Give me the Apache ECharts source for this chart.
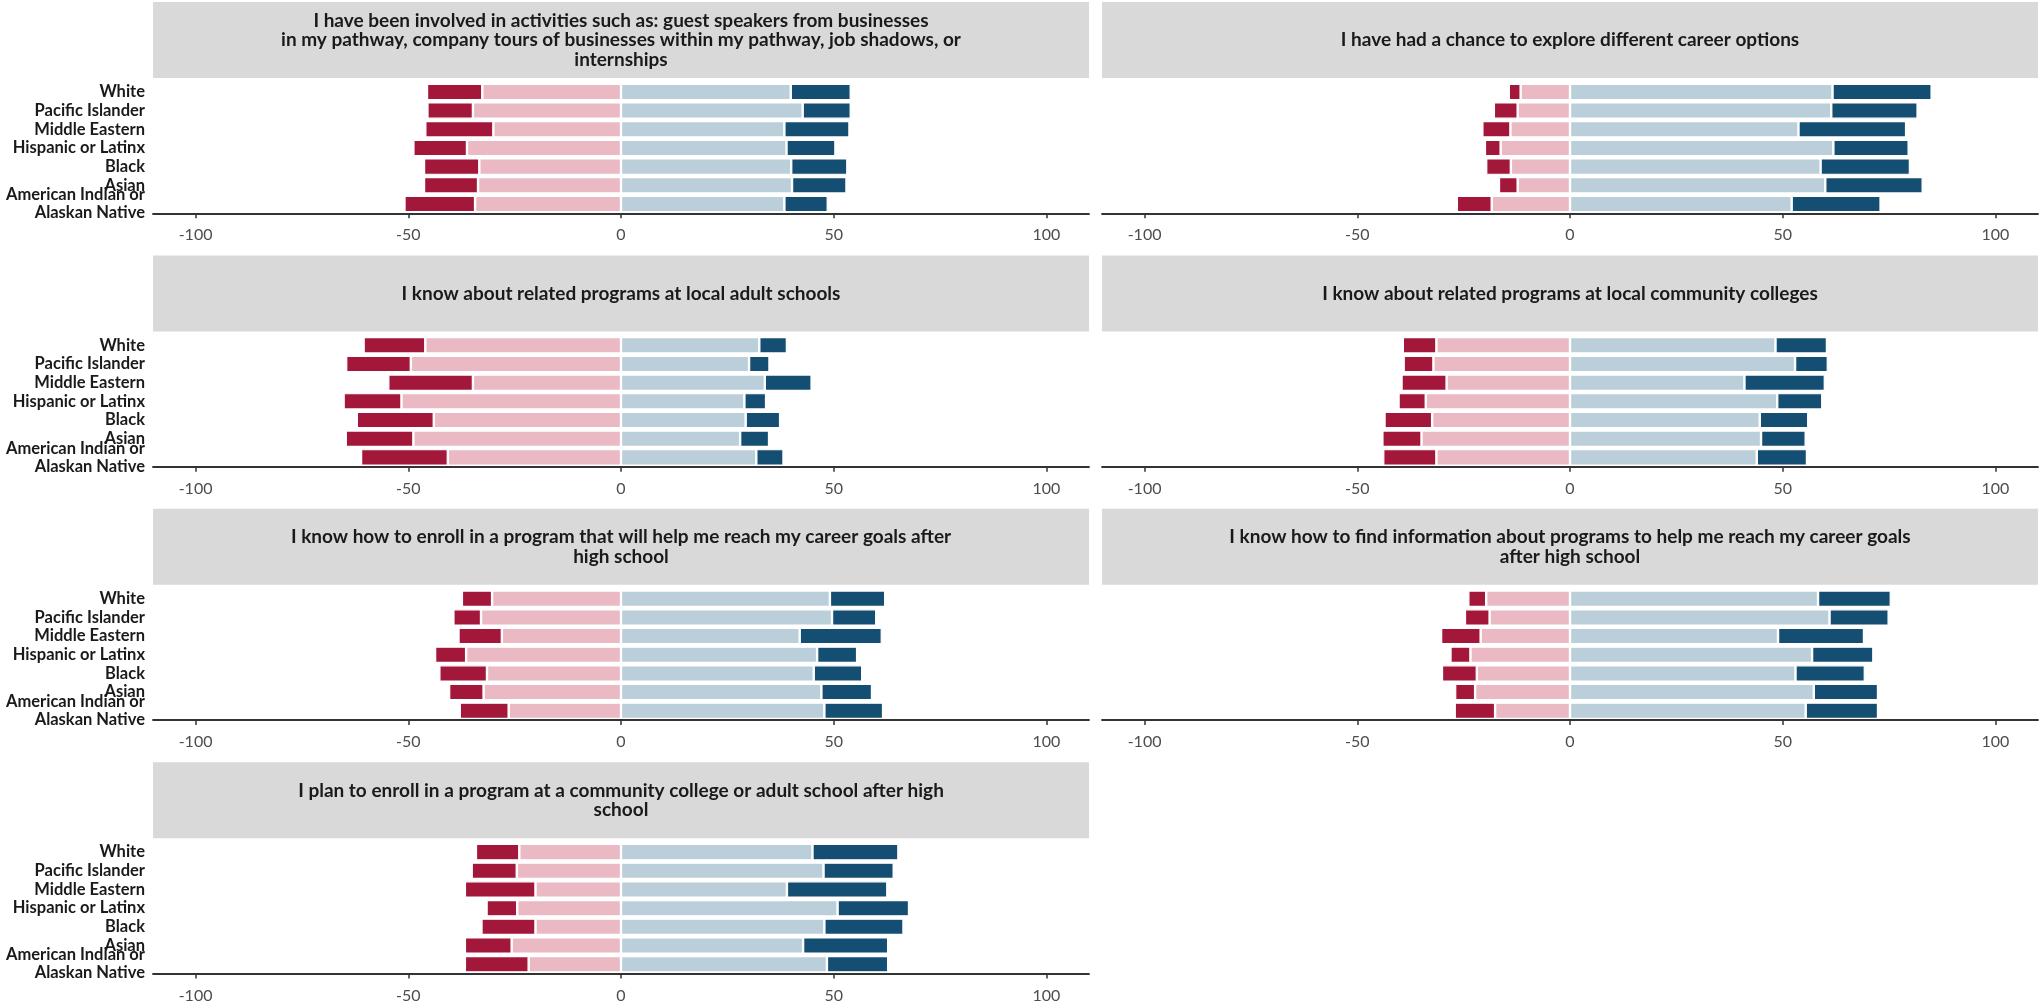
<!DOCTYPE html>
<html>
<head>
<meta charset="utf-8">
<script src="https://cdn.jsdelivr.net/npm/echarts@6/dist/echarts.min.js"></script>
<style>
html,body{margin:0;padding:0;background:#ffffff;}
#chart{width:2043px;height:1007px;}
</style>
</head>
<body>
<div id="chart"></div>
<script>
// ---------- DATA ----------
// Categories, bottom to top
const categories = ['American Indian or\nAlaskan Native', 'Asian', 'Black', 'Hispanic or Latinx', 'Middle Eastern', 'Pacific Islander', 'White'];
const levels = ['Strongly disagree', 'Disagree', 'Agree', 'Strongly agree'];
const xTickValues = [-100, -50, 0, 50, 100];

const panelTitles = [
  'I have been involved in activities such as: guest speakers from businesses\nin my pathway, company tours of businesses within my pathway, job shadows, or\ninternships',
  'I have had a chance to explore different career options',
  'I know about related programs at local adult schools',
  'I know about related programs at local community colleges',
  'I know how to enroll in a program that will help me reach my career goals after\nhigh school',
  'I know how to find information about programs to help me reach my career goals\nafter high school',
  'I plan to enroll in a program at a community college or adult school after high\nschool'
];

// Percentages per category (same order as categories)
const involvedSD = [16.6, 12.7, 13.0, 12.6, 16.0, 10.7, 13.0];
const involvedD  = [34.3, 33.6, 33.3, 36.2, 30.0, 34.8, 32.6];
const involvedA  = [38.4, 40.2, 40.0, 38.9, 38.4, 42.7, 39.9];
const involvedSA = [10.2, 12.8, 13.2, 11.5, 15.3, 11.3, 14.1];

const exploreSD = [8.2, 4.4, 5.8, 3.7, 6.6, 5.6, 2.8];
const exploreD  = [18.4, 12.3, 13.9, 16.3, 14.0, 12.3, 11.6];
const exploreA  = [52.1, 60.0, 58.9, 61.9, 53.7, 61.4, 61.7];
const exploreSA = [20.9, 22.9, 21.0, 17.7, 25.3, 20.3, 23.3];

const adultSD = [20.4, 15.9, 18.1, 13.6, 19.9, 15.2, 14.5];
const adultD  = [40.7, 48.8, 44.0, 51.6, 34.8, 49.4, 46.0];
const adultA  = [31.8, 28.0, 29.3, 29.0, 33.8, 30.1, 32.5];
const adultSA = [6.4, 6.8, 8.1, 5.1, 11.0, 4.8, 6.5];

const ccSD = [12.5, 9.2, 11.2, 6.4, 10.6, 7.0, 7.9];
const ccD  = [31.4, 34.9, 32.4, 33.9, 29.0, 32.1, 31.4];
const ccA  = [43.9, 44.9, 44.6, 48.7, 41.0, 52.9, 48.3];
const ccSA = [11.8, 10.5, 11.4, 10.6, 18.9, 7.7, 12.1];

const enrollSD = [11.5, 8.1, 11.2, 7.3, 10.2, 6.5, 7.1];
const enrollD  = [26.4, 32.3, 31.5, 36.4, 28.0, 32.9, 30.3];
const enrollA  = [47.8, 47.1, 45.3, 46.1, 42.0, 49.6, 49.1];
const enrollSA = [13.8, 11.9, 11.4, 9.4, 19.3, 10.4, 13.0];

const findSD = [9.5, 4.7, 8.2, 4.7, 9.3, 5.8, 4.2];
const findD  = [17.6, 22.3, 21.9, 23.4, 21.0, 18.9, 19.7];
const findA  = [55.4, 57.3, 53.0, 56.9, 48.9, 61.0, 58.3];
const findSA = [17.0, 15.1, 16.3, 14.4, 20.2, 13.9, 17.1];

const planSD = [15.0, 11.0, 12.7, 7.2, 16.6, 10.6, 10.2];
const planD  = [21.7, 25.7, 20.1, 24.4, 20.1, 24.5, 23.9];
const planA  = [48.4, 42.8, 47.8, 50.9, 39.0, 47.6, 45.0];
const planSA = [14.4, 20.0, 18.6, 16.8, 23.6, 16.5, 20.2];

const panels = [
  [involvedSD, involvedD, involvedA, involvedSA],
  [exploreSD, exploreD, exploreA, exploreSA],
  [adultSD, adultD, adultA, adultSA],
  [ccSD, ccD, ccA, ccSA],
  [enrollSD, enrollD, enrollA, enrollSA],
  [findSD, findD, findA, findSA],
  [planSD, planD, planA, planSA]
];

// ---------- STYLE / LAYOUT ----------
const colors = { sd: '#A3173A', d: '#EBB9C4', a: '#BBCFDB', sa: '#144F73' };
const FONT = 'Lato, "Noto Sans", sans-serif';
const colLeft = [153, 1102];
const gridW = 936;
const rowStep = 253.4;
const gridTop0 = 82.6;
const gridH = 130.7;
const stripTop0 = 2;
const stripH = 76;

const grids = [], xAxes = [], yAxes = [], series = [], graphics = [];

panels.forEach((p, i) => {
  const row = Math.floor(i / 2), col = i % 2;
  const left = colLeft[col];
  const top = gridTop0 + row * rowStep;
  grids.push({ left: left, top: top, width: gridW, height: gridH, containLabel: false });
  xAxes.push({
    type: 'value', gridIndex: i, min: -110, max: 110,
    splitLine: { show: false },
    axisLine: { show: true, onZero: false, lineStyle: { color: '#333333', width: 1.8 } },
    axisTick: { show: true, length: 5, customValues: xTickValues, lineStyle: { color: '#333333', width: 1.5 } },
    axisLabel: { customValues: xTickValues, color: '#4d4d4d', fontSize: 16, fontFamily: FONT, margin: 14 }
  });
  yAxes.push({
    type: 'category', gridIndex: i, data: categories,
    axisLine: { show: false }, axisTick: { show: false },
    splitLine: { show: false },
    axisLabel: {
      show: col === 0, interval: 0, color: '#1a1a1a', fontSize: 16.5, fontWeight: 'bold',
      fontFamily: FONT, margin: 8, lineHeight: 18, hideOverlap: false
    }
  });
  const [sd, d, a, sa] = p;
  const common = {
    type: 'bar', xAxisIndex: i, yAxisIndex: i, stack: 'p' + i, barWidth: '88%',
    silent: true
  };
  series.push(Object.assign({}, common, { name: levels[1], data: d.map(v => -v), itemStyle: { color: colors.d, borderColor: '#ffffff', borderWidth: 1.2 } }));
  series.push(Object.assign({}, common, { name: levels[0], data: sd.map(v => -v), itemStyle: { color: colors.sd, borderColor: '#ffffff', borderWidth: 1.2 } }));
  series.push(Object.assign({}, common, { name: levels[2], data: a.slice(), itemStyle: { color: colors.a, borderColor: '#ffffff', borderWidth: 1.2 } }));
  series.push(Object.assign({}, common, { name: levels[3], data: sa.slice(), itemStyle: { color: colors.sa, borderColor: '#ffffff', borderWidth: 1.2 } }));

  const sTop = stripTop0 + row * rowStep;
  graphics.push({
    type: 'rect', silent: true,
    shape: { x: left, y: sTop, width: gridW, height: stripH },
    style: { fill: '#D9D9D9' }
  });
  graphics.push({
    type: 'text', silent: true,
    x: left + gridW / 2, y: sTop + stripH / 2,
    style: {
      text: panelTitles[i], fill: '#1a1a1a', fontSize: 19, fontWeight: 'bold',
      fontFamily: FONT, align: 'center', verticalAlign: 'middle', lineHeight: 19.5
    }
  });
});

const chart = echarts.init(document.getElementById('chart'), null, { renderer: 'canvas' });
chart.setOption({
  animation: false,
  backgroundColor: '#ffffff',
  grid: grids,
  xAxis: xAxes,
  yAxis: yAxes,
  series: series,
  graphic: graphics
});
</script>
</body>
</html>
